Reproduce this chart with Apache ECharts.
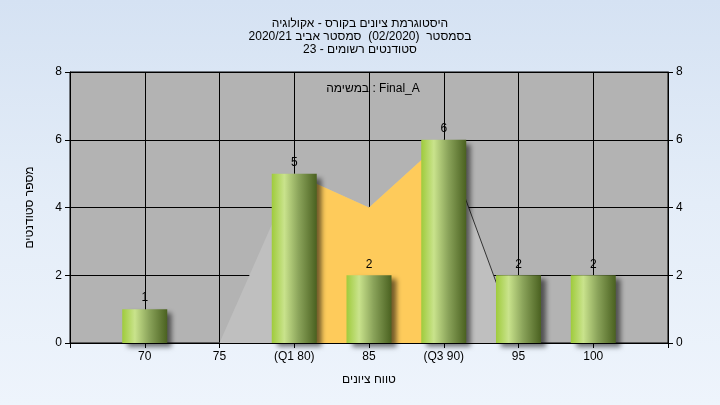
<!DOCTYPE html>
<html><head><meta charset="utf-8">
<script src="https://cdn.jsdelivr.net/npm/echarts@6/dist/echarts.min.js"></script>
<style>
html,body{margin:0;padding:0;}
#c{width:720px;height:405px;background:linear-gradient(to bottom,#d5e2f3 0%,#e4edf8 50%,#eef4fc 100%);}
</style>
</head><body><div id="c"></div>
<script>
const titleLines = ['היסטוגרמת ציונים בקורס - אקולוגיה', 'בסמסטר  (02/2020)  סמסטר אביב 2020/21', 'סטודנטים רשומים - 23'];
const taskLabel = 'במשימה : Final_A';
const xAxisName = 'טווח ציונים';
const yAxisName = 'מספר סטודנטים';
const grades = [70, 75, 80, 85, 90, 95, 100];
const counts = [1, 0, 5, 2, 6, 2, 2];
const gradeLabels = ['70', '75', '(Q1 80)', '85', '(Q3 90)', '95', '100'];
const curveX = [75, 80, 85, 90, 95];
const curveY = [0, 5, 4, 6, 0];
const iqrX = [80, 85, 90];
const iqrY = [5, 4, 6];
const tailX = [90, 95];
const tailY = [6, 0];

const FONT = '"Liberation Sans", "DejaVu Sans", Arial, sans-serif';
const chart = echarts.init(document.getElementById('c'), null, {renderer: 'canvas'});
const labelMap = {};
grades.forEach((g, i) => { labelMap[g] = gradeLabels[i]; });

const barGrad = new echarts.graphic.LinearGradient(0, 0, 1, 0, [
  {offset: 0, color: '#9fcb3c'},
  {offset: 0.28, color: '#c9e38c'},
  {offset: 0.6, color: '#8aa35a'},
  {offset: 1, color: '#4a6120'}
]);

const yAxisCommon = {
  type: 'value', min: 0, max: 8, interval: 2,
  axisLine: {show: true, lineStyle: {color: '#000', width: 1}},
  axisTick: {show: true, length: 5, lineStyle: {color: '#000'}},
  axisLabel: {color: '#000', fontSize: 12, fontFamily: FONT, margin: 8},
  splitLine: {show: false}
};

chart.setOption({
  backgroundColor: 'transparent',
  animation: false,
  title: [
    {text: titleLines.join('\n'), left: 'center', top: 12,
     textStyle: {fontSize: 12, fontWeight: 'normal', color: '#000', fontFamily: FONT, lineHeight: 13}},
    {text: taskLabel, left: 368, top: 78, textAlign: 'center',
     textStyle: {fontSize: 12, fontWeight: 'normal', color: '#000', fontFamily: FONT}}
  ],
  grid: {left: 70, right: 52, top: 72, bottom: 62, show: true,
         backgroundColor: '#b3b3b3', borderColor: '#000', borderWidth: 1},
  xAxis: {
    type: 'value', min: 65, max: 105, interval: 5,
    name: xAxisName, nameLocation: 'middle', nameGap: 31,
    nameTextStyle: {color: '#000', fontSize: 12, fontFamily: FONT},
    axisLine: {show: true, onZero: false, lineStyle: {color: '#000', width: 1}},
    axisTick: {show: true, length: 5, lineStyle: {color: '#000'}},
    axisLabel: {color: '#000', fontSize: 12, fontFamily: FONT, margin: 8,
      showMinLabel: true, showMaxLabel: true,
      formatter: v => labelMap[v] || ''},
    splitLine: {show: true, lineStyle: {color: '#000', width: 1}}
  },
  yAxis: [
    Object.assign({}, yAxisCommon, {
      position: 'left', name: yAxisName, nameLocation: 'middle', nameGap: 34, nameRotate: 90,
      nameTextStyle: {color: '#000', fontSize: 12, fontFamily: FONT},
      splitLine: {show: true, lineStyle: {color: '#000', width: 1}}
    }),
    Object.assign({}, yAxisCommon, {position: 'right'})
  ],
  series: [
    {type: 'line', z: 1, symbol: 'none', silent: true,
     data: curveX.map((x, i) => [x, curveY[i]]),
     lineStyle: {width: 0, opacity: 0},
     areaStyle: {color: '#bfbfbf', opacity: 1}},
    {type: 'line', z: 2, symbol: 'none', silent: true,
     data: iqrX.map((x, i) => [x, iqrY[i]]),
     lineStyle: {width: 0, opacity: 0},
     areaStyle: {color: '#fecb5b', opacity: 1}},
    {type: 'line', z: 3, symbol: 'none', silent: true,
     data: tailX.map((x, i) => [x, tailY[i]]),
     lineStyle: {width: 1, color: '#333'}},
    {type: 'bar', z: 4, barWidth: 45,
     data: grades.map((g, i) => [g, counts[i]]),
     itemStyle: {color: barGrad, shadowColor: 'rgba(0,0,0,0.55)', shadowBlur: 5, shadowOffsetX: 5, shadowOffsetY: 4},
     label: {show: true, position: 'top', distance: 5, color: '#000', fontSize: 12, fontFamily: FONT,
       formatter: p => (p.value[1] ? String(p.value[1]) : '')}}
  ]
});
</script>
</body></html>
